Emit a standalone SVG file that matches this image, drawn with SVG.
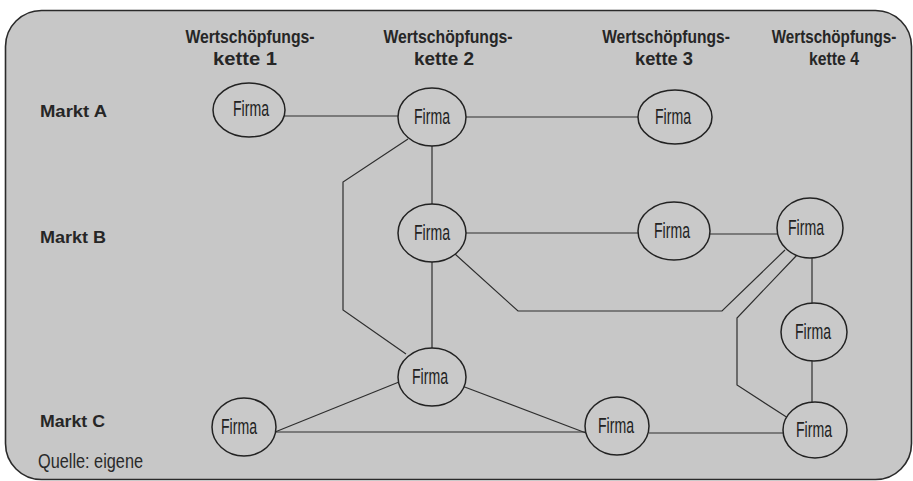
<svg xmlns="http://www.w3.org/2000/svg" width="913" height="481" viewBox="0 0 913 481">
<style>
.frame{fill:#c7c7c7;stroke:#2a2a2a;stroke-width:1.6}
.node ellipse{fill:#c9c9c9;stroke:#222;stroke-width:1.5}
.node text{font-family:"Liberation Sans",Arial,sans-serif;font-size:22px;fill:#222;text-anchor:middle}
.conn path{fill:none;stroke:#2e2e2e;stroke-width:1.2}
.hdr{font-family:"Liberation Sans",Arial,sans-serif;font-size:19px;font-weight:bold;fill:#262626;text-anchor:middle}
.row{font-family:"Liberation Sans",Arial,sans-serif;font-size:17px;font-weight:bold;fill:#262626}
.src{font-family:"Liberation Sans",Arial,sans-serif;font-size:21px;fill:#2a2a2a}
</style>
<rect class="frame" x="5.5" y="10.5" width="906" height="469" rx="36" ry="36"/>
<g id="headers">
<text class="hdr" transform="translate(250,43) scale(0.83,1)">Wertschöpfungs-</text>
<text class="hdr" x="245" y="65" textLength="64" lengthAdjust="spacingAndGlyphs">kette 1</text>
<text class="hdr" transform="translate(448,43) scale(0.83,1)">Wertschöpfungs-</text>
<text class="hdr" x="444" y="65" textLength="60" lengthAdjust="spacingAndGlyphs">kette 2</text>
<text class="hdr" transform="translate(666,43) scale(0.82,1)">Wertschöpfungs-</text>
<text class="hdr" x="664" y="65" textLength="58" lengthAdjust="spacingAndGlyphs">kette 3</text>
<text class="hdr" transform="translate(834,43) scale(0.8,1)">Wertschöpfungs-</text>
<text class="hdr" x="834" y="65" textLength="50" lengthAdjust="spacingAndGlyphs">kette 4</text>
</g>
<g id="rows">
<text class="row" x="40" y="117" textLength="67" lengthAdjust="spacingAndGlyphs">Markt A</text>
<text class="row" x="40" y="243" textLength="66" lengthAdjust="spacingAndGlyphs">Markt B</text>
<text class="row" x="40" y="427" textLength="65" lengthAdjust="spacingAndGlyphs">Markt C</text>
<text class="src" x="38" y="468" textLength="105" lengthAdjust="spacingAndGlyphs">Quelle: eigene</text>
</g>
<g id="connectors" class="conn">
<path d="M285,116 H398"/>
<path d="M466,117 H638"/>
<path d="M432,146 V204"/>
<path d="M408,139 L343,182 V310 L406,354"/>
<path d="M466,233 H638"/>
<path d="M710,234 H777"/>
<path d="M455,254 L518,311 H722 L785,250"/>
<path d="M797,255 L737,318 V385 L788,418"/>
<path d="M812,258 V303"/>
<path d="M812,361 V402"/>
<path d="M432,262 V348"/>
<path d="M399,382 L275,432"/>
<path d="M462,386 L586,433"/>
<path d="M276,432 H585"/>
<path d="M649,433 H783"/>
</g>
<g id="n1" class="node"><ellipse cx="249" cy="110" rx="36" ry="27"/><text x="251" y="116" textLength="36" lengthAdjust="spacingAndGlyphs">Firma</text></g>
<g id="n2" class="node"><ellipse cx="432" cy="117" rx="34" ry="29"/><text x="432" y="124" textLength="36" lengthAdjust="spacingAndGlyphs">Firma</text></g>
<g id="n3" class="node"><ellipse cx="675" cy="117" rx="37" ry="27"/><text x="673" y="124" textLength="36" lengthAdjust="spacingAndGlyphs">Firma</text></g>
<g id="n4" class="node"><ellipse cx="432" cy="233" rx="34" ry="29"/><text x="432" y="240" textLength="36" lengthAdjust="spacingAndGlyphs">Firma</text></g>
<g id="n5" class="node"><ellipse cx="674" cy="231" rx="36" ry="29"/><text x="672" y="238" textLength="36" lengthAdjust="spacingAndGlyphs">Firma</text></g>
<g id="n6" class="node"><ellipse cx="810" cy="228" rx="33" ry="30"/><text x="806" y="235" textLength="36" lengthAdjust="spacingAndGlyphs">Firma</text></g>
<g id="n7" class="node"><ellipse cx="814" cy="332" rx="33" ry="29"/><text x="813" y="339" textLength="36" lengthAdjust="spacingAndGlyphs">Firma</text></g>
<g id="n8" class="node"><ellipse cx="815" cy="430" rx="32" ry="28"/><text x="814" y="437" textLength="36" lengthAdjust="spacingAndGlyphs">Firma</text></g>
<g id="n9" class="node"><ellipse cx="617" cy="426" rx="32" ry="29"/><text x="616" y="433" textLength="36" lengthAdjust="spacingAndGlyphs">Firma</text></g>
<g id="n10" class="node"><ellipse cx="432" cy="377" rx="34" ry="29"/><text x="430" y="384" textLength="36" lengthAdjust="spacingAndGlyphs">Firma</text></g>
<g id="n11" class="node"><ellipse cx="244" cy="427" rx="32" ry="29"/><text x="239" y="434" textLength="36" lengthAdjust="spacingAndGlyphs">Firma</text></g>
</svg>
